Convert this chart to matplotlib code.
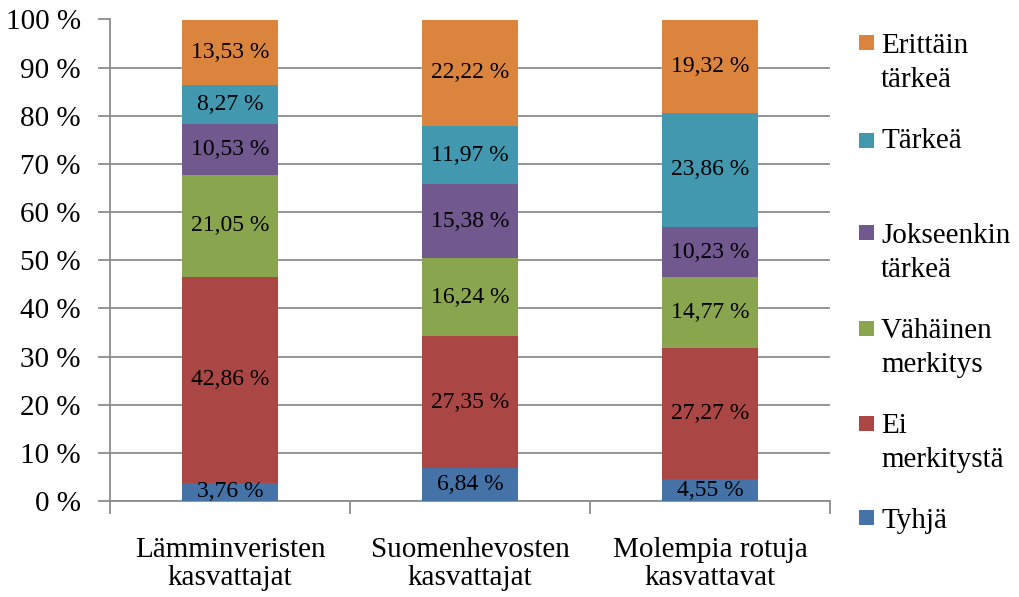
import matplotlib
matplotlib.use("Agg")
import matplotlib.pyplot as plt
from matplotlib.patches import Rectangle
import numpy as np

plt.rcParams['font.family'] = ['Liberation Serif', 'DejaVu Serif']

categories = ["Lämminveristen\nkasvattajat", "Suomenhevosten\nkasvattajat", "Molempia rotuja\nkasvattavat"]
series_names = ["Tyhjä", "Ei\nmerkitystä", "Vähäinen\nmerkitys", "Jokseenkin\ntärkeä", "Tärkeä", "Erittäin\ntärkeä"]
tyhja = [3.76, 6.84, 4.55]
ei_merkitysta = [42.86, 27.35, 27.27]
vahainen = [21.05, 16.24, 14.77]
jokseenkin = [10.53, 15.38, 10.23]
tarkea = [8.27, 11.97, 23.86]
erittain = [13.53, 22.22, 19.32]
series = [tyhja, ei_merkitysta, vahainen, jokseenkin, tarkea, erittain]
colors = ["#4572A7", "#AA4643", "#89A54E", "#71588F", "#4198AF", "#DB843D"]
yticks = list(range(0, 101, 10))

fig = plt.figure(figsize=(10.19, 5.97), dpi=100)
ax = fig.add_axes([110/1019, 1-501/597, 720/1019, 481.5/597])

x = np.arange(len(categories))
bottom = np.zeros(len(categories))
for vals, col in zip(series, colors):
    vals = np.array(vals)
    ax.bar(x, vals, 0.4, bottom=bottom, color=col, zorder=3)
    for xi, b, v in zip(x, bottom, vals):
        ax.text(xi, b + v/2, f"{v:.2f}".replace('.', ',') + " %", ha='center', va='center',
                fontsize=17, zorder=4)
    bottom += vals

ax.set_xlim(-0.5, 2.5)
ax.set_ylim(0, 100)
ax.set_yticks(yticks)
ax.set_yticklabels([f"{t} %" for t in yticks], fontsize=21)
ax.yaxis.grid(True, color="#8c8c8c", linewidth=1.3, zorder=0)
ax.set_xticks(x)
ax.set_xticklabels(categories, fontsize=21, linespacing=1.1)
ax.set_xticks([-0.5, 0.5, 1.5, 2.5], minor=True)
ax.tick_params(axis='x', which='major', length=0, pad=26)
ax.tick_params(axis='x', which='minor', length=9, width=1.3, color="#8c8c8c")
ax.tick_params(axis='y', length=9, width=1.3, color="#8c8c8c", pad=12)
for s in ['top', 'right']:
    ax.spines[s].set_visible(False)
for s in ['left', 'bottom']:
    ax.spines[s].set_color("#8c8c8c")
    ax.spines[s].set_linewidth(1.3)

# legend (manual placement, top to bottom reversed order)
marker_tops = [510, 416, 321, 225, 133, 35]
baselines = [528, 433, 338, 243, 148, 53]
W, H = 1019, 597
for name, col, mt, bl in zip(series_names, colors, marker_tops, baselines):
    fig.patches.append(Rectangle((859/W, 1-(mt+15)/H), 15/W, 15/H, transform=fig.transFigure,
                                 facecolor=col, edgecolor='none'))
    lines = name.split("\n")
    for i, ln in enumerate(lines):
        fig.text(881/W, 1-(bl + i*34)/H, ln, fontsize=21, ha='left', va='baseline')

fig.savefig("out.png", dpi=100)
